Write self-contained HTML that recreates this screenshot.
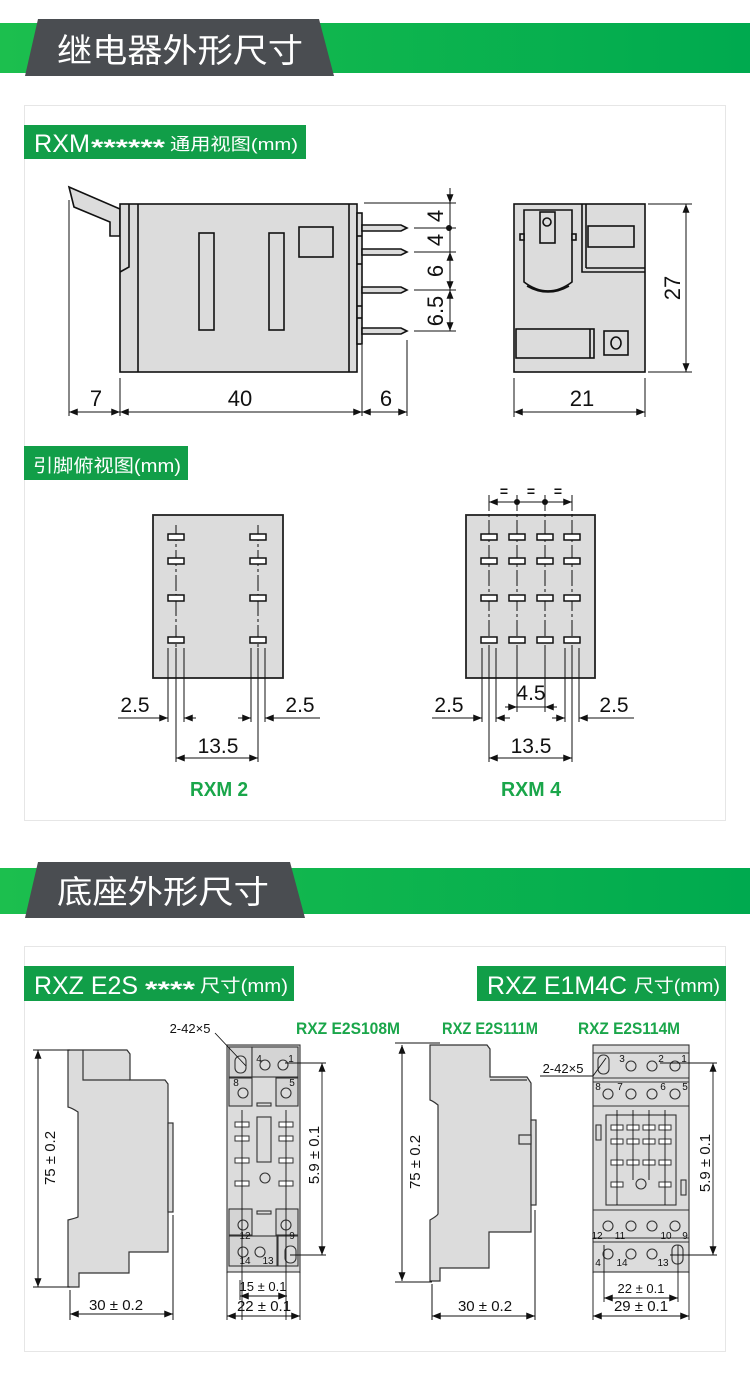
<!DOCTYPE html>
<html><head><meta charset="utf-8">
<style>
html,body{margin:0;padding:0;background:#fff;}
svg{display:block;}
text{font-family:"Liberation Sans","Noto Sans CJK SC",sans-serif;}
</style></head>
<body>
<svg width="750" height="1376" viewBox="0 0 750 1376" xmlns="http://www.w3.org/2000/svg">
<defs>
<linearGradient id="g1" x1="0" x2="1" y1="0" y2="0">
<stop offset="0" stop-color="#1cbf4e"/><stop offset="1" stop-color="#00aa4f"/>
</linearGradient>
<marker id="a" viewBox="0 0 10 8" refX="10" refY="4" markerWidth="10" markerHeight="7" markerUnits="userSpaceOnUse" orient="auto-start-reverse">
<path d="M0,0 L10,4 L0,8 z" fill="#111"/>
</marker>
</defs>

<!-- Header 1 -->
<rect x="0" y="23" width="750" height="50" fill="url(#g1)"/>
<polygon points="38,19 319,19 334,76 25,76" fill="#4a4d51"/>
<text x="57" y="62" font-size="33" fill="#fff" textLength="246" lengthAdjust="spacingAndGlyphs">继电器外形尺寸</text>

<!-- Panel 1 -->
<rect x="24.5" y="105.5" width="701" height="715" fill="#fff" stroke="#e6e6e6"/>
<rect x="24" y="125" width="282" height="34" fill="#119e48"/>
<text x="34" y="152" font-size="25" fill="#fff" textLength="56" lengthAdjust="spacingAndGlyphs">RXM</text>
<text x="91" y="155" font-size="22" fill="#fff" font-weight="bold" textLength="74" lengthAdjust="spacingAndGlyphs">******</text>
<text x="170" y="150" font-size="17" fill="#fff" textLength="128" lengthAdjust="spacingAndGlyphs">通用视图(mm)</text>

<g stroke="#111" stroke-width="1.6" fill="#dcdcdc">
<polygon points="69,187 120,209 120,236 110,236 110,222 74,207" />
<rect x="120" y="204" width="237" height="168"/>
<line x1="138" y1="204" x2="138" y2="372"/>
<line x1="349" y1="204" x2="349" y2="372"/>
<polyline points="120,272 129,267 129,204" fill="none"/>
<rect x="357" y="213" width="5" height="131"/>
<line x1="357" y1="236" x2="362" y2="236"/><line x1="357" y1="264" x2="362" y2="264"/><line x1="357" y1="306" x2="362" y2="306"/><line x1="357" y1="318" x2="362" y2="318"/>
<rect x="199" y="233" width="15" height="97"/>
<rect x="269" y="233" width="15" height="97"/>
<rect x="299" y="227" width="34" height="30"/>
<polygon points="362,225 401,225 407,228 401,231 362,231"/>
<polygon points="362,249 401,249 407,252 401,255 362,255"/>
<polygon points="362,287 401,287 407,290 401,293 362,293"/>
<polygon points="362,328 401,328 407,331 401,334 362,334"/>
</g>
<g stroke="#111" stroke-width="1" fill="none">
<line x1="69" y1="200" x2="69" y2="416"/>
<line x1="120" y1="378" x2="120" y2="416"/>
<line x1="362" y1="345" x2="362" y2="416"/>
<line x1="407" y1="340" x2="407" y2="416"/>
<line x1="69" y1="412" x2="120" y2="412" marker-start="url(#a)" marker-end="url(#a)"/>
<line x1="120" y1="412" x2="362" y2="412" marker-start="url(#a)" marker-end="url(#a)"/>
<line x1="362" y1="412" x2="407" y2="412" marker-start="url(#a)" marker-end="url(#a)"/>
<line x1="364" y1="203" x2="456" y2="203"/>
<line x1="414" y1="228" x2="456" y2="228"/>
<line x1="414" y1="252" x2="456" y2="252"/>
<line x1="414" y1="290" x2="456" y2="290"/>
<line x1="414" y1="331" x2="456" y2="331"/>
<line x1="450" y1="188" x2="450" y2="203" marker-end="url(#a)"/>
<line x1="450" y1="203" x2="450" y2="252"/>
<line x1="450" y1="252" x2="450" y2="290" marker-start="url(#a)" marker-end="url(#a)"/>
<line x1="450" y1="290" x2="450" y2="331" marker-start="url(#a)" marker-end="url(#a)"/>
</g>
<circle cx="449" cy="228" r="3" fill="#111"/>
<g font-size="22" fill="#111" text-anchor="middle">
<text x="96" y="406">7</text><text x="240" y="406">40</text><text x="386" y="406">6</text>
<text transform="translate(443,216) rotate(-90)">4</text>
<text transform="translate(443,240) rotate(-90)">4</text>
<text transform="translate(443,271) rotate(-90)">6</text>
<text transform="translate(443,311) rotate(-90)">6.5</text>
<text x="582" y="406">21</text>
<text transform="translate(680,288) rotate(-90)">27</text>
</g>

<g stroke="#111" stroke-width="1.6" fill="#dcdcdc">
<rect x="514" y="204" width="131" height="168"/>
<polyline points="582,204 582,272 645,272" fill="none"/>
<line x1="586" y1="204" x2="586" y2="268"/><line x1="586" y1="268" x2="645" y2="268"/>
<rect x="588" y="226" width="46" height="21"/>
<path d="M524,210 L572,210 L572,282 Q548,300 524,282 Z"/>
<path d="M527,286 Q548,298 569,286" fill="none"/>
<rect x="540" y="212" width="15" height="31"/>
<circle cx="547" cy="222" r="4"/>
<rect x="520" y="234" width="4" height="6"/><rect x="572" y="234" width="4" height="6"/>
<rect x="516" y="329" width="78" height="29"/>
<line x1="590" y1="329" x2="590" y2="358"/>
<rect x="604" y="331" width="24" height="24"/>
<ellipse cx="616" cy="343" rx="5" ry="6"/>
</g>
<g stroke="#111" stroke-width="1" fill="none">
<line x1="648" y1="204" x2="692" y2="204"/>
<line x1="648" y1="372" x2="692" y2="372"/>
<line x1="686" y1="204" x2="686" y2="372" marker-start="url(#a)" marker-end="url(#a)"/>
<line x1="514" y1="378" x2="514" y2="417"/>
<line x1="645" y1="378" x2="645" y2="417"/>
<line x1="514" y1="412" x2="645" y2="412" marker-start="url(#a)" marker-end="url(#a)"/>
</g>

<!-- pin views -->
<rect x="24" y="446" width="164" height="34" fill="#119e48"/>
<text x="33" y="472" font-size="18" fill="#fff" textLength="148" lengthAdjust="spacingAndGlyphs">引脚俯视图(mm)</text>

<g stroke="#222" stroke-width="1.8" fill="#dcdcdc">
<rect x="153" y="515" width="130" height="163"/>
<rect x="466" y="515" width="129" height="163"/>
</g>
<g stroke="#111" stroke-width="1" stroke-dasharray="16,3,3,3" fill="none">
<line x1="176" y1="525" x2="176" y2="650"/><line x1="258" y1="525" x2="258" y2="650"/>
<line x1="489" y1="495" x2="489" y2="650"/><line x1="517" y1="495" x2="517" y2="650"/>
<line x1="545" y1="495" x2="545" y2="650"/><line x1="572" y1="495" x2="572" y2="650"/>
</g>
<g stroke="#111" stroke-width="1.5" fill="#fff">
<rect x="168" y="534" width="16" height="6"/><rect x="250" y="534" width="16" height="6"/>
<rect x="168" y="558" width="16" height="6"/><rect x="250" y="558" width="16" height="6"/>
<rect x="168" y="595" width="16" height="6"/><rect x="250" y="595" width="16" height="6"/>
<rect x="168" y="637" width="16" height="6"/><rect x="250" y="637" width="16" height="6"/>
<g id="r4">
<rect x="481" y="534" width="16" height="6"/><rect x="509" y="534" width="16" height="6"/><rect x="537" y="534" width="16" height="6"/><rect x="564" y="534" width="16" height="6"/>
</g>
<use href="#r4" y="24"/><use href="#r4" y="61"/><use href="#r4" y="103"/>
</g>
<g stroke="#111" stroke-width="1" fill="none">
<line x1="168" y1="648" x2="168" y2="722"/><line x1="176" y1="648" x2="176" y2="762"/><line x1="184" y1="648" x2="184" y2="722"/>
<line x1="251" y1="648" x2="251" y2="722"/><line x1="258" y1="648" x2="258" y2="762"/><line x1="265" y1="648" x2="265" y2="722"/>
<line x1="118" y1="718" x2="168" y2="718" marker-end="url(#a)"/>
<line x1="196" y1="718" x2="184" y2="718" marker-end="url(#a)"/>
<line x1="320" y1="718" x2="265" y2="718" marker-end="url(#a)"/>
<line x1="238" y1="718" x2="251" y2="718" marker-end="url(#a)"/>
<line x1="176" y1="758" x2="258" y2="758" marker-start="url(#a)" marker-end="url(#a)"/>

<line x1="482" y1="648" x2="482" y2="722"/><line x1="489" y1="648" x2="489" y2="762"/><line x1="496" y1="648" x2="496" y2="722"/>
<line x1="565" y1="648" x2="565" y2="722"/><line x1="572" y1="648" x2="572" y2="762"/><line x1="579" y1="648" x2="579" y2="722"/>
<line x1="517" y1="648" x2="517" y2="712"/><line x1="545" y1="648" x2="545" y2="712"/>
<line x1="432" y1="718" x2="482" y2="718" marker-end="url(#a)"/>
<line x1="510" y1="718" x2="496" y2="718" marker-end="url(#a)"/>
<line x1="634" y1="718" x2="579" y2="718" marker-end="url(#a)"/>
<line x1="552" y1="718" x2="565" y2="718" marker-end="url(#a)"/>
<line x1="505" y1="707" x2="517" y2="707" marker-end="url(#a)"/>
<line x1="517" y1="707" x2="545" y2="707"/>
<line x1="557" y1="707" x2="545" y2="707" marker-end="url(#a)"/>
<line x1="489" y1="758" x2="572" y2="758" marker-start="url(#a)" marker-end="url(#a)"/>
<line x1="489" y1="502" x2="572" y2="502" marker-start="url(#a)" marker-end="url(#a)"/>
</g>
<circle cx="517" cy="502" r="3" fill="#111"/><circle cx="545" cy="502" r="3" fill="#111"/>
<g font-size="14" fill="#111" text-anchor="middle" font-weight="bold"><text x="504" y="496">=</text><text x="531" y="496">=</text><text x="558" y="496">=</text></g>
<g font-size="21" fill="#111" text-anchor="middle">
<text x="135" y="712">2.5</text><text x="300" y="712">2.5</text><text x="218" y="753">13.5</text>
<text x="449" y="712">2.5</text><text x="614" y="712">2.5</text><text x="531" y="700">4.5</text><text x="531" y="753">13.5</text>
</g>
<g font-size="20" fill="#1aa64a" text-anchor="middle" font-weight="bold">
<text x="219" y="796" textLength="58" lengthAdjust="spacingAndGlyphs">RXM 2</text>
<text x="531" y="796" textLength="60" lengthAdjust="spacingAndGlyphs">RXM 4</text>
</g>

<!-- Header 2 -->
<rect x="0" y="868" width="750" height="46" fill="url(#g1)"/>
<polygon points="38,862 290,862 305,918 25,918" fill="#4a4d51"/>
<text x="57" y="903" font-size="32" fill="#fff" textLength="212" lengthAdjust="spacingAndGlyphs">底座外形尺寸</text>

<!-- Panel 2 -->
<rect x="24.5" y="946.5" width="701" height="405" fill="#fff" stroke="#e6e6e6"/>
<rect x="24" y="966" width="270" height="35" fill="#119e48"/>
<text x="34" y="994" font-size="25" fill="#fff" textLength="104" lengthAdjust="spacingAndGlyphs">RXZ E2S</text>
<text x="145" y="997" font-size="22" fill="#fff" font-weight="bold" textLength="50" lengthAdjust="spacingAndGlyphs">****</text>
<text x="200" y="992" font-size="18" fill="#fff" textLength="88" lengthAdjust="spacingAndGlyphs">尺寸(mm)</text>
<rect x="477" y="966" width="249" height="35" fill="#119e48"/>
<text x="487" y="994" font-size="25" fill="#fff" textLength="140" lengthAdjust="spacingAndGlyphs">RXZ E1M4C</text>
<text x="634" y="992" font-size="18" fill="#fff" textLength="86" lengthAdjust="spacingAndGlyphs">尺寸(mm)</text>

<g font-size="17" fill="#1aa64a" font-weight="bold">
<text x="296" y="1034" textLength="104" lengthAdjust="spacingAndGlyphs">RXZ E2S108M</text>
<text x="442" y="1034" textLength="96" lengthAdjust="spacingAndGlyphs">RXZ E2S111M</text>
<text x="578" y="1034" textLength="102" lengthAdjust="spacingAndGlyphs">RXZ E2S114M</text>
</g>

<g stroke="#333" stroke-width="1.2" fill="#dcdcdc">
<path d="M68,1050 L127,1050 L130,1054 L130,1080 L165,1080 L168,1084 L168,1252 L129,1252 L129,1273 L79,1273 L79,1287 L68,1287 L68,1220 Q76,1218 78,1217 L78,1112 Q72,1108 68,1107 Z"/>
<polyline points="83,1050 83,1080 130,1080" fill="none"/>
<rect x="168" y="1123" width="5" height="89"/>
</g>
<g stroke="#111" stroke-width="1" fill="none">
<line x1="33" y1="1050" x2="70" y2="1050"/><line x1="33" y1="1287" x2="70" y2="1287"/>
<line x1="38" y1="1050" x2="38" y2="1287" marker-start="url(#a)" marker-end="url(#a)"/>
<line x1="70" y1="1290" x2="70" y2="1320"/><line x1="173" y1="1215" x2="173" y2="1320"/>
<line x1="70" y1="1314" x2="173" y2="1314" marker-start="url(#a)" marker-end="url(#a)"/>
</g>

<g stroke="#333" stroke-width="1.1" fill="#dcdcdc">
<rect x="227" y="1045" width="73" height="227"/>
<rect x="229" y="1047" width="23" height="30" fill="#d4d4d4"/>
<rect x="252" y="1047" width="46" height="30" fill="#d4d4d4"/>
<rect x="229" y="1078" width="23" height="28" fill="#d4d4d4"/>
<rect x="276" y="1078" width="22" height="28" fill="#d4d4d4"/>
<rect x="229" y="1209" width="23" height="26" fill="#d4d4d4"/>
<rect x="276" y="1209" width="22" height="26" fill="#d4d4d4"/>
<rect x="229" y="1236" width="48" height="30" fill="#d4d4d4"/>
<rect x="278" y="1236" width="20" height="30" fill="#d4d4d4"/>
<rect x="257" y="1117" width="14" height="45"/>
<rect x="257" y="1103" width="14" height="3"/><rect x="257" y="1211" width="14" height="3"/>
<rect x="235" y="1056" width="11" height="17" rx="5"/>
<circle cx="265" cy="1065" r="5"/><circle cx="283" cy="1065" r="5"/>
<circle cx="243" cy="1093" r="5"/><circle cx="286" cy="1093" r="5"/>
<circle cx="265" cy="1178" r="5"/>
<circle cx="243" cy="1225" r="5"/><circle cx="286" cy="1225" r="5"/>
<circle cx="243" cy="1252" r="5"/><circle cx="260" cy="1252" r="5"/>
<rect x="285" y="1246" width="11" height="17" rx="5"/>
</g>
<g stroke="#333" stroke-width="1" fill="#fff">
<rect x="235" y="1122" width="14" height="5"/><rect x="279" y="1122" width="14" height="5"/>
<rect x="235" y="1136" width="14" height="5"/><rect x="279" y="1136" width="14" height="5"/>
<rect x="235" y="1158" width="14" height="5"/><rect x="279" y="1158" width="14" height="5"/>
<rect x="235" y="1181" width="14" height="5"/><rect x="279" y="1181" width="14" height="5"/>
</g>
<g stroke="#111" stroke-width="0.9" fill="none">
<line x1="242" y1="1110" x2="242" y2="1320"/><line x1="286" y1="1110" x2="286" y2="1320"/>
<line x1="240" y1="1280" x2="240" y2="1300"/>
<line x1="215" y1="1033" x2="246" y2="1066"/>
<line x1="285" y1="1063" x2="326" y2="1063"/><line x1="290" y1="1255" x2="326" y2="1255"/>
<line x1="322" y1="1063" x2="322" y2="1255" marker-start="url(#a)" marker-end="url(#a)"/>
<line x1="240" y1="1296" x2="287" y2="1296" marker-start="url(#a)" marker-end="url(#a)"/>
<line x1="227" y1="1272" x2="227" y2="1320"/><line x1="300" y1="1272" x2="300" y2="1320"/>
<line x1="227" y1="1316" x2="300" y2="1316" marker-start="url(#a)" marker-end="url(#a)"/>
</g>
<g font-size="10" fill="#111" text-anchor="middle">
<text x="259" y="1062">4</text><text x="291" y="1062">1</text>
<text x="236" y="1086">8</text><text x="292" y="1086">5</text>
<text x="245" y="1239">12</text><text x="292" y="1239">9</text>
<text x="245" y="1264">14</text><text x="268" y="1264">13</text>
</g>

<g stroke="#333" stroke-width="1.2" fill="#dcdcdc">
<path d="M430,1045 L487,1045 L490,1049 L490,1077 L527,1077 L531,1083 L531,1232 L489,1232 L489,1268 L440,1268 L440,1281 L430,1281 L430,1220 Q437,1216 438,1214 L438,1105 Q433,1101 430,1100 Z"/>
<rect x="531" y="1120" width="5" height="85"/>
<rect x="519" y="1135" width="12" height="9"/>
<polyline points="490,1080 527,1080" fill="none"/>
</g>
<g stroke="#111" stroke-width="1" fill="none">
<line x1="395" y1="1043" x2="440" y2="1043"/><line x1="395" y1="1282" x2="432" y2="1282"/>
<line x1="402" y1="1045" x2="402" y2="1281" marker-start="url(#a)" marker-end="url(#a)"/>
<line x1="432" y1="1284" x2="432" y2="1320"/><line x1="535" y1="1210" x2="535" y2="1320"/>
<line x1="432" y1="1316" x2="535" y2="1316" marker-start="url(#a)" marker-end="url(#a)"/>
</g>

<g stroke="#333" stroke-width="1.1" fill="#dcdcdc">
<rect x="593" y="1045" width="96" height="227"/>
<line x1="593" y1="1053" x2="689" y2="1053"/><line x1="593" y1="1078" x2="689" y2="1078"/>
<line x1="593" y1="1082" x2="689" y2="1082"/><line x1="593" y1="1106" x2="689" y2="1106"/>
<line x1="593" y1="1210" x2="689" y2="1210"/><line x1="593" y1="1238" x2="689" y2="1238"/>
<line x1="593" y1="1242" x2="689" y2="1242"/>
<rect x="606" y="1115" width="70" height="90"/>
<rect x="598" y="1055" width="11" height="19" rx="5"/>
<circle cx="631" cy="1066" r="5"/><circle cx="652" cy="1066" r="5"/><circle cx="675" cy="1066" r="5"/>
<circle cx="608" cy="1094" r="5"/><circle cx="631" cy="1094" r="5"/><circle cx="652" cy="1094" r="5"/><circle cx="675" cy="1094" r="5"/>
<circle cx="608" cy="1226" r="5"/><circle cx="631" cy="1226" r="5"/><circle cx="652" cy="1226" r="5"/><circle cx="675" cy="1226" r="5"/>
<circle cx="608" cy="1254" r="5"/><circle cx="631" cy="1254" r="5"/><circle cx="652" cy="1254" r="5"/>
<rect x="672" y="1245" width="11" height="19" rx="5"/>
<circle cx="641" cy="1184" r="5"/>
<rect x="596" y="1125" width="5" height="15"/><rect x="681" y="1180" width="5" height="15"/>
</g>
<g stroke="#333" stroke-width="1" fill="#fff">
<g id="p4"><rect x="611" y="1125" width="12" height="5"/><rect x="627" y="1125" width="12" height="5"/><rect x="643" y="1125" width="12" height="5"/><rect x="659" y="1125" width="12" height="5"/></g>
<use href="#p4" y="14"/><use href="#p4" y="35"/>
<rect x="611" y="1182" width="12" height="5"/><rect x="659" y="1182" width="12" height="5"/>
</g>
<g stroke="#111" stroke-width="0.9" fill="none">
<line x1="617" y1="1110" x2="617" y2="1205"/><line x1="633" y1="1110" x2="633" y2="1180"/>
<line x1="649" y1="1110" x2="649" y2="1180"/><line x1="665" y1="1110" x2="665" y2="1205"/>
<line x1="604" y1="1245" x2="604" y2="1302"/><line x1="678" y1="1245" x2="678" y2="1302"/>
<line x1="540" y1="1076" x2="593" y2="1076"/><line x1="593" y1="1076" x2="606" y2="1058"/>
<line x1="660" y1="1063" x2="717" y2="1063"/><line x1="670" y1="1255" x2="717" y2="1255"/>
<line x1="713" y1="1063" x2="713" y2="1255" marker-start="url(#a)" marker-end="url(#a)"/>
<line x1="604" y1="1298" x2="678" y2="1298" marker-start="url(#a)" marker-end="url(#a)"/>
<line x1="593" y1="1272" x2="593" y2="1320"/><line x1="689" y1="1272" x2="689" y2="1320"/>
<line x1="593" y1="1316" x2="689" y2="1316" marker-start="url(#a)" marker-end="url(#a)"/>
</g>
<g font-size="10" fill="#111" text-anchor="middle">
<text x="622" y="1062">3</text><text x="661" y="1062">2</text><text x="684" y="1062">1</text>
<text x="598" y="1090">8</text><text x="620" y="1090">7</text><text x="663" y="1090">6</text><text x="685" y="1090">5</text>
<text x="597" y="1239">12</text><text x="620" y="1239">11</text><text x="666" y="1239">10</text><text x="685" y="1239">9</text>
<text x="598" y="1266">4</text><text x="622" y="1266">14</text><text x="663" y="1266">13</text>
</g>

<g font-size="13" fill="#111" text-anchor="middle">
<text x="190" y="1033">2-42×5</text>
<text x="563" y="1073">2-42×5</text>
<text x="263" y="1291">15 ± 0.1</text>
<text x="264" y="1311" font-size="15">22 ± 0.1</text>
<text x="641" y="1293">22 ± 0.1</text>
<text x="641" y="1311" font-size="15">29 ± 0.1</text>
<text x="116" y="1310" font-size="15">30 ± 0.2</text>
<text x="485" y="1311" font-size="15">30 ± 0.2</text>
<text transform="translate(55,1158) rotate(-90)" font-size="15">75 ± 0.2</text>
<text transform="translate(420,1162) rotate(-90)" font-size="15">75 ± 0.2</text>
<text transform="translate(319,1155) rotate(-90)" font-size="15">5.9 ± 0.1</text>
<text transform="translate(710,1163) rotate(-90)" font-size="15">5.9 ± 0.1</text>
</g>
</svg>
</body></html>
